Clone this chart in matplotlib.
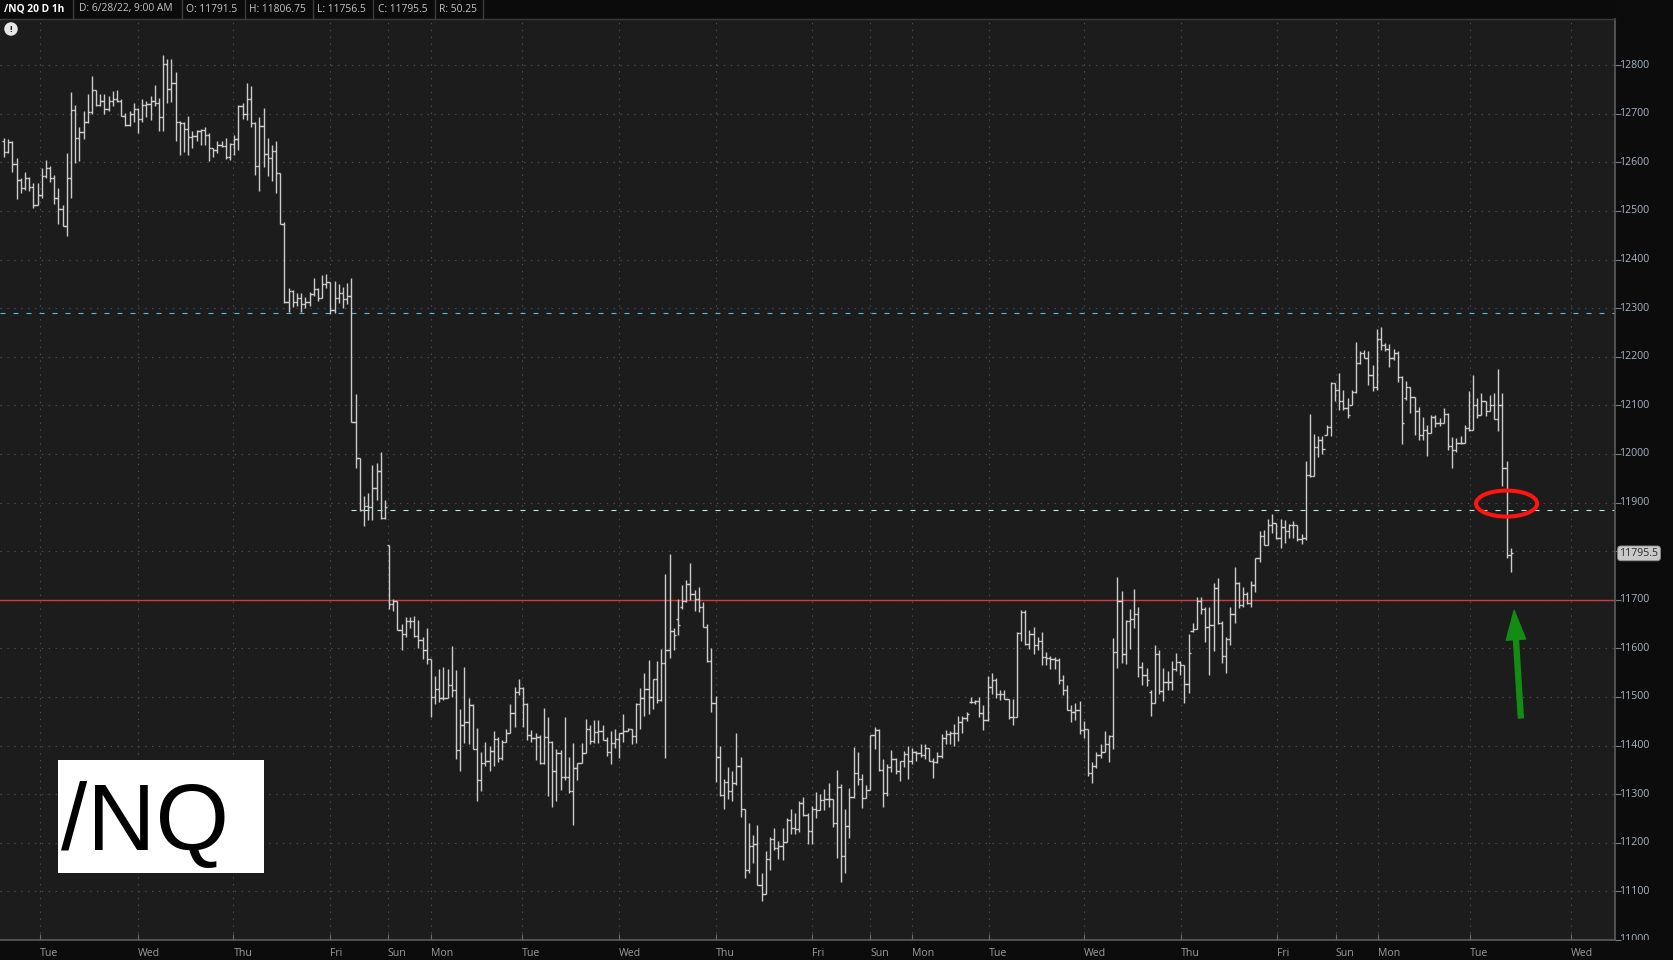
#/NQ hourly OHLC bar chart, dark platform style
import matplotlib
matplotlib.use("Agg")
import matplotlib.pyplot as plt
import matplotlib.transforms as mtransforms
from matplotlib.patches import Ellipse, Rectangle, FancyArrowPatch
import numpy as np

plt.rcParams['font.family'] = ['Open Sans', 'DejaVu Sans']

# hourly bars, 6/7 evening -> 6/28 9:00
opens = [
    12643, 12621, 12642, 12596, 12564, 12548, 12567, 12550, 12512, 12533,
    12572, 12589, 12567, 12526, 12505, 12470, 12567, 12707, 12651, 12662,
    12683, 12703, 12748, 12719, 12727, 12709, 12727, 12731, 12727, 12695,
    12676, 12700, 12709, 12690, 12718, 12720, 12727, 12722, 12693, 12802,
    12752, 12763, 12684, 12681, 12669, 12653, 12655, 12665, 12667, 12657,
    12629, 12626, 12636, 12633, 12612, 12638, 12649, 12716, 12700, 12730,
    12681, 12593, 12674, 12617, 12609, 12624, 12578, 12474,
    12312, 12335, 12312, 12320, 12308, 12312, 12330, 12339, 12320, 12349, 12354, 12296,
    12320, 12332, 12318, 12325, 12066, 11992, 11885, 11894, 11891, 11930, 11966, 11868,
    11813, 11691, 11697, 11638, 11629, 11657, 11657, 11626, 11618, 11596,
    11579, 11500, 11517, 11497, 11497, 11524, 11515, 11391, 11442, 11449,
    11483, 11394, 11330, 11364, 11369, 11388, 11413, 11374, 11408, 11426,
    11467, 11510, 11519, 11485, 11422, 11415, 11418, 11364, 11418, 11408,
    11348, 11384, 11335, 11335, 11306, 11353, 11365, 11384, 11435, 11409,
    11427, 11429, 11411, 11386, 11406, 11413, 11426, 11431, 11435, 11420,
    11486, 11497, 11517, 11500, 11536, 11493, 11570, 11596, 11635, 11660,
    11685, 11698, 11732, 11712, 11702, 11686, 11645, 11574, 11488,
    11377, 11298, 11326, 11307, 11324, 11358, 11269, 11143, 11193, 11197,
    11114, 11095, 11167, 11207, 11189, 11193, 11202, 11246, 11231, 11228,
    11281, 11257, 11224, 11269, 11267, 11288, 11290, 11290, 11241, 11315,
    11173, 11235, 11294, 11344, 11331, 11293, 11308, 11422, 11432, 11349,
    11303, 11356, 11372, 11347, 11369, 11382, 11369, 11386, 11384, 11381,
    11395, 11369, 11367, 11379, 11415, 11424, 11425, 11425, 11448, 11457,
    11490, 11489, 11492, 11468, 11452, 11520, 11535,
    11506, 11507, 11495, 11459, 11459, 11631, 11674, 11610, 11630, 11606,
    11616, 11582, 11581, 11579, 11577, 11534, 11514, 11473, 11470, 11474,
    11432, 11435, 11343, 11358, 11381, 11386, 11403, 11420, 11593, 11698,
    11589, 11656, 11661, 11671, 11562, 11545, 11510, 11487, 11589, 11513,
    11531, 11531, 11558, 11572, 11565, 11526, 11635, 11640, 11698, 11681,
    11645, 11649, 11724, 11652, 11584, 11620, 11670, 11734, 11690, 11712,
    11693, 11731, 11787, 11831, 11813, 11854, 11857, 11828, 11850, 11842,
    11854, 11854, 11825, 11827, 11957, 11955, 12014, 12028, 12040, 12055,
    12146, 12132, 12110, 12095, 12101, 12127, 12187, 12207, 12197, 12163,
    12137, 12237, 12224, 12217, 12198, 12207, 12159, 12115, 12137, 12118,
    12088, 12040, 12050, 12043, 12077, 12064, 12064, 12082, 12016, 12009,
    12023, 12023, 12054, 12050, 12100, 12081, 12110, 12088, 12101, 12073,
    12100, 11971, 11791.5,
]

highs = [
    12650, 12649, 12643, 12610, 12568, 12581, 12570, 12557, 12557, 12589,
    12604, 12593, 12574, 12548, 12512, 12619, 12745, 12718, 12672, 12705,
    12741, 12778, 12748, 12740, 12740, 12736, 12747, 12748, 12730, 12702,
    12705, 12722, 12712, 12731, 12727, 12736, 12759, 12733, 12821, 12812,
    12812, 12785, 12686, 12684, 12695, 12664, 12667, 12669, 12672, 12660,
    12629, 12644, 12644, 12650, 12640, 12657, 12718, 12722, 12763, 12757,
    12684, 12693, 12712, 12650, 12635, 12644, 12579, 12477,
    12341, 12337, 12332, 12332, 12322, 12334, 12363, 12341, 12368, 12371, 12354, 12356,
    12350, 12344, 12352, 12363, 12123, 11992, 11913, 11920, 11977, 11981, 12005, 11906,
    11813, 11702, 11697, 11650, 11664, 11664, 11667, 11659, 11623, 11642,
    11579, 11543, 11558, 11562, 11558, 11605, 11555, 11476, 11562, 11497,
    11485, 11437, 11386, 11408, 11399, 11429, 11418, 11411, 11435, 11486,
    11521, 11536, 11521, 11488, 11432, 11425, 11422, 11478, 11459, 11410,
    11394, 11390, 11458, 11377, 11405, 11365, 11405, 11454, 11442, 11452,
    11452, 11442, 11418, 11429, 11434, 11426, 11465, 11437, 11435, 11488,
    11519, 11549, 11577, 11536, 11575, 11599, 11754, 11795, 11642, 11702,
    11731, 11740, 11775, 11720, 11727, 11695, 11650, 11601, 11502,
    11400, 11331, 11356, 11347, 11426, 11377, 11269, 11241, 11216, 11237,
    11138, 11183, 11211, 11230, 11204, 11231, 11250, 11269, 11262, 11287,
    11294, 11262, 11276, 11305, 11300, 11310, 11324, 11290, 11349, 11322,
    11269, 11312, 11397, 11386, 11341, 11319, 11422, 11439, 11434, 11372,
    11362, 11391, 11375, 11369, 11389, 11400, 11396, 11389, 11403, 11404,
    11395, 11375, 11386, 11424, 11432, 11430, 11444, 11461, 11461, 11470,
    11499, 11494, 11501, 11484, 11544, 11549, 11540,
    11515, 11514, 11495, 11495, 11633, 11678, 11679, 11637, 11645, 11623,
    11633, 11592, 11584, 11582, 11581, 11545, 11524, 11483, 11487, 11492,
    11451, 11435, 11367, 11386, 11403, 11431, 11422, 11622, 11747, 11719,
    11659, 11681, 11722, 11685, 11572, 11560, 11514, 11608, 11596, 11560,
    11554, 11574, 11590, 11574, 11565, 11629, 11653, 11706, 11705, 11685,
    11686, 11734, 11745, 11657, 11623, 11685, 11768, 11736, 11726, 11715,
    11739, 11787, 11842, 11843, 11866, 11877, 11859, 11866, 11864, 11855,
    11862, 11854, 11835, 11985, 12082, 12041, 12037, 12037, 12059, 12149,
    12146, 12166, 12132, 12115, 12132, 12231, 12212, 12214, 12211, 12183,
    12258, 12262, 12228, 12226, 12217, 12212, 12161, 12151, 12137, 12118,
    12096, 12077, 12060, 12080, 12081, 12074, 12095, 12084, 12035, 12033,
    12037, 12059, 12129, 12163, 12115, 12125, 12110, 12122, 12125, 12174,
    12126, 11985, 11806.75,
]

lows = [
    12612, 12619, 12581, 12524, 12536, 12543, 12541, 12506, 12512, 12527,
    12567, 12560, 12515, 12474, 12469, 12448, 12526, 12598, 12602, 12649,
    12680, 12700, 12716, 12716, 12699, 12705, 12717, 12725, 12695, 12674,
    12674, 12684, 12660, 12684, 12693, 12688, 12716, 12664, 12664, 12723,
    12725, 12643, 12616, 12622, 12616, 12630, 12643, 12636, 12636, 12603,
    12612, 12619, 12631, 12607, 12605, 12616, 12626, 12690, 12688, 12672,
    12574, 12541, 12591, 12571, 12562, 12536, 12474, 12310,
    12293, 12303, 12305, 12293, 12301, 12305, 12325, 12314, 12320, 12341, 12289, 12291,
    12311, 12300, 12308, 12066, 11971, 11882, 11851, 11865, 11865, 11906, 11866, 11866,
    11681, 11676, 11637, 11597, 11623, 11642, 11624, 11601, 11578, 11568,
    11459, 11485, 11490, 11493, 11497, 11499, 11373, 11347, 11406, 11403,
    11394, 11287, 11306, 11357, 11347, 11357, 11367, 11370, 11408, 11425,
    11439, 11504, 11439, 11411, 11408, 11370, 11362, 11362, 11297, 11274,
    11287, 11309, 11330, 11302, 11237, 11330, 11365, 11384, 11403, 11405,
    11405, 11411, 11379, 11362, 11395, 11374, 11408, 11430, 11403, 11405,
    11435, 11461, 11466, 11476, 11488, 11492, 11374, 11581, 11597, 11628,
    11681, 11695, 11700, 11676, 11674, 11644, 11572, 11469, 11326,
    11296, 11269, 11290, 11285, 11319, 11253, 11128, 11138, 11159, 11114,
    11080, 11094, 11145, 11186, 11166, 11164, 11202, 11219, 11218, 11223,
    11255, 11197, 11198, 11252, 11267, 11267, 11274, 11232, 11168, 11120,
    11138, 11209, 11292, 11319, 11271, 11293, 11308, 11393, 11348, 11274,
    11296, 11345, 11341, 11327, 11356, 11331, 11362, 11369, 11377, 11372,
    11369, 11334, 11365, 11375, 11403, 11403, 11400, 11410, 11425, 11451,
    11487, 11485, 11459, 11432, 11450, 11506, 11498,
    11494, 11495, 11454, 11442, 11459, 11616, 11608, 11599, 11589, 11596,
    11565, 11565, 11558, 11558, 11526, 11504, 11473, 11449, 11453, 11424,
    11415, 11338, 11323, 11354, 11374, 11386, 11367, 11393, 11560, 11569,
    11567, 11599, 11642, 11541, 11524, 11522, 11461, 11487, 11507, 11492,
    11514, 11515, 11554, 11545, 11487, 11509, 11633, 11640, 11671, 11613,
    11545, 11595, 11651, 11569, 11549, 11606, 11652, 11683, 11685, 11691,
    11685, 11715, 11777, 11813, 11813, 11838, 11825, 11806, 11816, 11828,
    11828, 11820, 11815, 11822, 11953, 11955, 11994, 11999, 12039, 12038,
    12108, 12091, 12091, 12074, 12101, 12125, 12185, 12197, 12142, 12129,
    12132, 12214, 12211, 12178, 12194, 12149, 12021, 12112, 12084, 12040,
    12028, 12028, 11996, 12043, 12055, 12057, 12064, 12009, 11972, 12004,
    12021, 12023, 12048, 12050, 12074, 12081, 12078, 12088, 12073, 12047,
    11935, 11787, 11756.5,
]

closes = [
    12621, 12642, 12596, 12564, 12548, 12567, 12550, 12512, 12533, 12572,
    12589, 12567, 12526, 12505, 12470, 12567, 12707, 12651, 12662, 12683,
    12703, 12748, 12719, 12727, 12709, 12727, 12731, 12727, 12695, 12676,
    12700, 12709, 12690, 12718, 12720, 12727, 12722, 12693, 12802, 12752,
    12763, 12684, 12681, 12669, 12653, 12655, 12665, 12667, 12657, 12629,
    12626, 12636, 12633, 12612, 12638, 12649, 12716, 12700, 12730, 12681,
    12593, 12674, 12617, 12609, 12624, 12578, 12474, 12312,
    12335, 12312, 12320, 12308, 12312, 12330, 12339, 12320, 12349, 12354, 12296, 12320,
    12332, 12318, 12325, 12066, 11992, 11885, 11894, 11891, 11930, 11966, 11868, 11891,
    11691, 11697, 11638, 11629, 11657, 11657, 11626, 11618, 11596, 11579,
    11500, 11517, 11497, 11497, 11524, 11515, 11391, 11442, 11449, 11483,
    11394, 11330, 11364, 11369, 11388, 11413, 11374, 11408, 11426, 11467,
    11510, 11519, 11485, 11422, 11415, 11418, 11364, 11418, 11408, 11348,
    11384, 11335, 11335, 11306, 11353, 11365, 11384, 11435, 11409, 11427,
    11429, 11411, 11386, 11406, 11413, 11426, 11431, 11435, 11420, 11486,
    11497, 11517, 11500, 11536, 11493, 11570, 11596, 11635, 11628, 11648,
    11698, 11732, 11712, 11702, 11686, 11645, 11574, 11488, 11377,
    11298, 11326, 11307, 11324, 11358, 11269, 11143, 11193, 11197, 11114,
    11095, 11167, 11207, 11189, 11193, 11202, 11246, 11231, 11228, 11281,
    11257, 11224, 11269, 11267, 11288, 11290, 11290, 11241, 11315, 11173,
    11235, 11294, 11344, 11331, 11293, 11308, 11422, 11432, 11349, 11303,
    11356, 11372, 11347, 11369, 11382, 11369, 11386, 11384, 11381, 11395,
    11369, 11367, 11379, 11415, 11424, 11425, 11425, 11448, 11457, 11465,
    11489, 11492, 11468, 11452, 11520, 11535, 11506,
    11507, 11495, 11459, 11459, 11631, 11674, 11610, 11630, 11606, 11616,
    11582, 11581, 11579, 11577, 11534, 11514, 11473, 11470, 11474, 11432,
    11435, 11343, 11358, 11381, 11386, 11403, 11420, 11593, 11698, 11589,
    11656, 11661, 11671, 11562, 11545, 11534, 11487, 11589, 11513, 11531,
    11531, 11558, 11572, 11565, 11526, 11590, 11640, 11698, 11681, 11645,
    11649, 11724, 11652, 11584, 11620, 11670, 11734, 11690, 11712, 11693,
    11731, 11787, 11831, 11813, 11854, 11857, 11828, 11850, 11842, 11854,
    11854, 11825, 11827, 11957, 11955, 12014, 12028, 12011, 12055, 12146,
    12132, 12110, 12095, 12081, 12127, 12187, 12207, 12197, 12163, 12137,
    12237, 12224, 12217, 12198, 12207, 12159, 12064, 12137, 12118, 12088,
    12040, 12050, 12043, 12077, 12064, 12064, 12082, 12016, 12009, 12023,
    12023, 12054, 12050, 12100, 12081, 12110, 12088, 12101, 12073, 12100,
    11971, 11791.5, 11795.5,
]

assert len(opens) == len(highs) == len(lows) == len(closes)

day_labels = ["Tue", "Wed", "Thu", "Fri", "Sun", "Mon", "Tue", "Wed", "Thu", "Fri",
              "Sun", "Mon", "Tue", "Wed", "Thu", "Fri", "Sun", "Mon", "Tue", "Wed"]
day_pos = [8.6, 32.0, 54.8, 77.9, 91.7, 102.0, 123.7, 146.9, 170.1, 193.1,
           206.9, 216.9, 235.3, 258.0, 281.2, 304.1, 318.2, 328.2, 350.2, 374.3]

price_ticks = list(range(11000, 12900, 100))
level_blue = 12290
level_mint = 11884
level_red = 11700
last_price = 11795.5

header_items = ["/NQ 20 D 1h", "D: 6/28/22, 9:00 AM", "O: 11791.5", "H: 11806.75",
                "L: 11756.5", "C: 11795.5", "R: 50.25"]
header_x = [4, 79, 186, 249, 317, 378, 439]
header_sep = [73, 182, 245, 313, 373, 435, 483]

W, H = 1673, 960
fig = plt.figure(figsize=(W / 100, H / 100), dpi=100, facecolor='#0c0c0c')
ax = fig.add_axes([0, 20 / H, 1615 / W, 921 / H])
ax.set_facecolor('#1c1c1c')

x = np.arange(len(closes))
bar_col = '#cccccc'
ax.vlines(x, lows, highs, color=bar_col, lw=1.0, zorder=3)
ax.hlines(opens, x - 0.55, x, color=bar_col, lw=1.0, zorder=3)
ax.hlines(closes, x, x + 0.55, color=bar_col, lw=1.0, zorder=3)

ax.set_xlim(-0.96, 384.9)
ax.set_ylim(11000, 12895)

# level lines
ax.axhline(level_blue, color='#5cb5ea', lw=0.8, ls=(0, (4.5, 7.2)), zorder=2)
ax.hlines(level_mint, 83, 384.9, color='#b4f2da', lw=0.8, ls=(0, (4.5, 7.2)), zorder=2)
ax.axhline(level_red, color='#d83838', lw=1.0, zorder=2)

# grid
ax.set_yticks(price_ticks)
ax.set_xticks(day_pos)
ax.grid(True, color='#505050', lw=0.8, ls=(0, (1.2, 5)), zorder=1)

for s in ['left', 'top']:
    ax.spines[s].set_visible(False)
for s in ['right', 'bottom']:
    ax.spines[s].set_color('#5c5c5c')
    ax.spines[s].set_linewidth(1.2)

ax.tick_params(axis='y', left=False, right=True, labelleft=False, labelright=False,
               length=4, color='#7a7a7a', direction='out')
ax.tick_params(axis='x', direction='in', length=4, color='#6a6a6a',
               labelcolor='#9c9c9c', labelsize=7.6, pad=6)
ax.set_xticklabels(day_labels)
for lab in ax.get_xticklabels():
    lab.set_horizontalalignment('left')

# price labels drawn by hand so the bottom one clips like the platform does;
# the last-price box covers the 11800 slot
trans = mtransforms.blended_transform_factory(ax.transAxes, ax.transData)
clip = mtransforms.TransformedBbox(mtransforms.Bbox([[1.0, 0.0], [1.05, 1.02]]), ax.transAxes)
for p in price_ticks:
    if abs(p - last_price) < 30:
        continue
    t = ax.text(1.0028, p, str(p), transform=trans, ha='left', va='center',
                color='#a8b6c6', fontsize=7.6, clip_on=True)
    t.set_clip_box(clip)

ax.text(1.0028, last_price, "11795.5", transform=trans, ha='left', va='center',
        color='#2a2a2a', fontsize=7.6, zorder=6,
        bbox=dict(boxstyle='round,pad=0.18,rounding_size=0.3', fc='#c9c9c9', ec='#8a8a8a', lw=0.6))

# annotations: red ellipse and green arrow
ax.add_patch(Ellipse((359.0, 11898), 14.6, 53.5, fill=False, ec='#ff1414', lw=2.9, zorder=6))
ax.add_patch(FancyArrowPatch((362.4, 11457), (360.8, 11678),
                             arrowstyle='simple,head_length=2.1,head_width=1.4,tail_width=0.36',
                             mutation_scale=10, color='#138c13', shrinkA=0, shrinkB=0, zorder=6))

# header bar
fig.add_artist(Rectangle((0, 1 - 18 / H), 1615 / W, 18 / H, transform=fig.transFigure,
                         fc='#0b0b0b', ec='none'))
fig.add_artist(plt.Line2D([0, 1615 / W], [1 - 18.5 / H, 1 - 18.5 / H], transform=fig.transFigure,
                          color='#3c3c3c', lw=1))
for i, (txt, hx) in enumerate(zip(header_items, header_x)):
    fig.text(hx / W, 1 - 9 / H, txt, ha='left', va='center', fontsize=7.4,
             color='#ffffff' if i == 0 else '#c4c4c4',
             fontweight='bold' if i == 0 else 'normal')
for sx in header_sep:
    fig.add_artist(plt.Line2D([sx / W, sx / W], [1 - 18 / H, 1], transform=fig.transFigure,
                              color='#3c3c3c', lw=1))

# alert icon
fig.text(11 / W, 1 - 29 / H, "!", ha='center', va='center', fontsize=6.5, fontweight='bold',
         color='#1c1c1c', bbox=dict(boxstyle='circle,pad=0.25', fc='#e6e6e6', ec='none'))

# ticker label box
fig.add_artist(Rectangle((57.6 / W, (H - 872.8) / H), 206 / W, 113.3 / H,
                         transform=fig.transFigure, fc='white', ec='none', zorder=5))
fig.text(61 / W, (H - 850) / H, "/NQ", family='Liberation Sans', fontsize=68,
         color='black', va='baseline', ha='left', zorder=6)

fig.savefig("out.png", dpi=100, facecolor=fig.get_facecolor())
